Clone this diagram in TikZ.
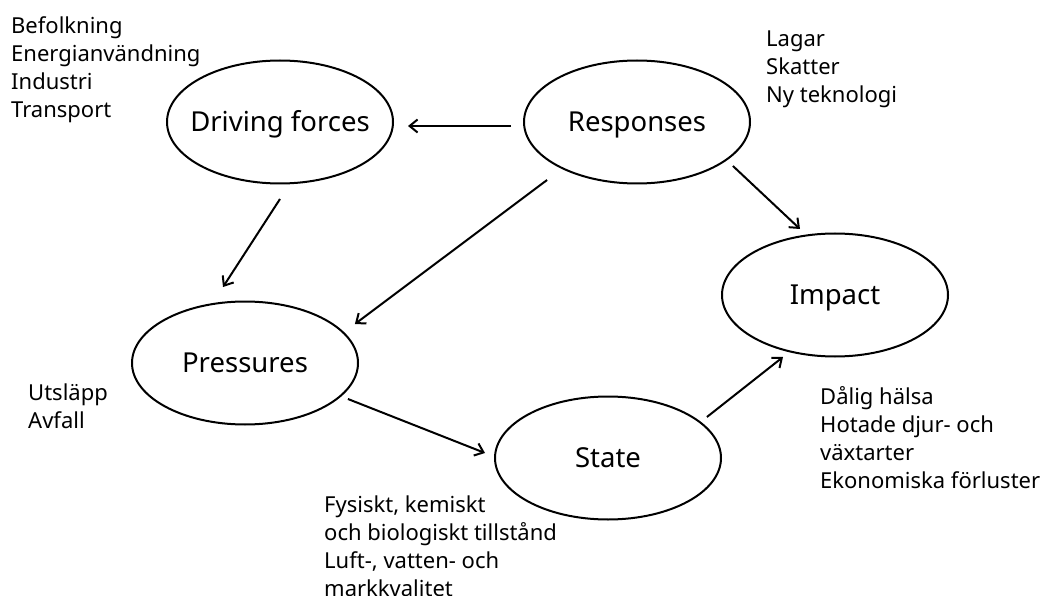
\documentclass[tikz,border=0pt]{standalone}
\usepackage{fontspec}
\setmainfont{Noto Sans}[Ligatures=NoCommon]
\usetikzlibrary{shapes.geometric,arrows.meta}

\begin{document}
\begin{tikzpicture}[x=1pt, y=-1pt,
    stage/.style = {draw, ellipse, line width=2pt, outer sep=0pt, inner sep=0pt,
                    minimum width=226pt, minimum height=123pt, text height=19pt, text depth=0pt,
                    font=\fontsize{27.5}{32}\selectfont},
    notes/.style = {anchor=north west, align=left, inner sep=0pt, font=\fontsize{22}{28}\selectfont},
    flow/.style  = {line width=2pt, -{Straight Barb[length=8pt,width=13pt]}}]
  \useasboundingbox (0,0) rectangle (1044,596);
  % the five stages
  \node [stage] (driving)   at (280,122) {\makebox[0pt]{Driving forces}};
  \node [stage] (responses) at (637,122) {\makebox[0pt]{Responses}};
  \node [stage] (impact)    at (835,295) {\makebox[0pt]{Impact}};
  \node [stage] (pressures) at (245,363) {\makebox[0pt]{Pressures}};
  \node [stage] (state)     at (608,458) {\makebox[0pt]{State}};
  % examples beside each stage
  \node [notes] (drivingnotes)   at (11,16)   {Befolkning\\Energianvändning\\Industri\\Transport};
  \node [notes] (responsesnotes) at (766,31)  {Lagar\\Skatter\\Ny teknologi};
  \node [notes] (pressuresnotes) at (28,384)  {Utsläpp\\Avfall};
  \node [notes] (statenotes)     at (324,496) {Fysiskt, kemiskt\\och biologiskt tillstånd\\Luft-, vatten- och\\markkvalitet};
  \node [notes] (impactnotes)    at (820,386) {Dålig hälsa\\Hotade djur- och\\växtarter\\Ekonomiska förluster};
  % arrows
  \draw [flow] ([shift={(-13,4)}]responses.west) -- ([shift={(15,4)}]driving.east);
  \draw [flow] ([shift={(0,15.5)}]driving.south) -- ([shift={(-22,-14.5)}]pressures.north);
  \draw [flow] ([shift={(-10,14.5)}]responses.south west) -- ([shift={(30,4.5)}]pressures.north east);
  \draw [flow] ([shift={(16,0.5)}]responses.south east) -- ([shift={(-35,-4.5)}]impact.north);
  \draw [flow] ([shift={(23,-7.5)}]pressures.south east) -- ([shift={(-10,-5)}]state.west);
  \draw [flow] ([shift={(19,2.5)}]state.north east) -- ([shift={(-52,0.5)}]impact.south);
\end{tikzpicture}
\end{document}
